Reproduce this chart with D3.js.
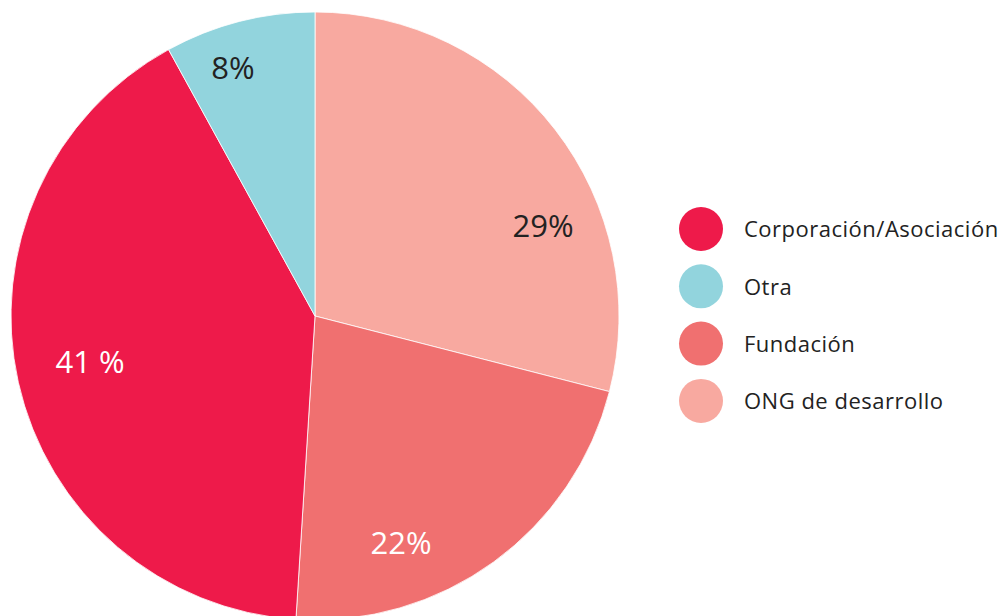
<!DOCTYPE html>
<meta charset="utf-8">
<head>
<script src="https://d3js.org/d3.v7.min.js"></script>
<style>
  body { margin: 0; background: #fff; }
  text { font-family: "Open Sans", "Noto Sans", sans-serif; }
</style>
</head>
<body>
<div id="pie_graph"></div>
<script>
// data, clockwise from 12 o'clock
var categories = ["ONG de desarrollo", "Fundación", "Corporación/Asociación", "Otra"];
var values = [29, 22, 41, 8];
var labels = ["29%", "22%", "41 %", "8%"];
var colors = ["#F8A9A0", "#F07070", "#EE1A4A", "#92D4DD"];
var legendOrder = ["Corporación/Asociación", "Otra", "Fundación", "ONG de desarrollo"];

// label placement relative to the pie centre (hand tuned)
var labelAt = [[228, -90], [86, 227], [-225, 46], [-82, -248]];
var labelFill = ["#222", "#fff", "#fff", "#222"];

var width = 1002, height = 616,
    cx = 315, cy = 316, radius = 304;

var svg = d3.select("#pie_graph")
  .append("svg")
    .attr("width", width)
    .attr("height", height);

var color = d3.scaleOrdinal().domain(categories).range(colors);

var pie = d3.pie().sort(null).value(function(d) { return d; });
var arc = d3.arc().innerRadius(0).outerRadius(radius);

var g = svg.append("g")
    .attr("transform", "translate(" + cx + "," + cy + ")");

var arcs = pie(values);

g.selectAll("path")
  .data(arcs)
  .enter()
  .append("path")
    .attr("d", arc)
    .attr("fill", function(d, i) { return color(categories[i]); })
    .attr("stroke", "#fff")
    .attr("stroke-width", 0.8);

g.selectAll("text.pct")
  .data(arcs)
  .enter()
  .append("text")
    .attr("class", "pct")
    .attr("x", function(d, i) { return labelAt[i][0]; })
    .attr("y", function(d, i) { return labelAt[i][1]; })
    .attr("text-anchor", "middle")
    .attr("dy", "0.35em")
    .attr("font-size", 31)
    .attr("fill", function(d, i) { return labelFill[i]; })
    .text(function(d, i) { return labels[i]; });

// legend
var legend = svg.append("g")
    .attr("transform", "translate(701,229)");

var item = legend.selectAll("g")
  .data(legendOrder)
  .enter()
  .append("g")
    .attr("transform", function(d, i) { return "translate(0," + (i * 57.3) + ")"; });

item.append("circle")
    .attr("r", 22)
    .attr("fill", function(d) { return color(d); });

item.append("text")
    .attr("x", 43)
    .attr("dy", "0.38em")
    .attr("font-size", 22)
    .attr("letter-spacing", 0.5)
    .attr("fill", "#222")
    .text(function(d) { return d; });
</script>
</body>
